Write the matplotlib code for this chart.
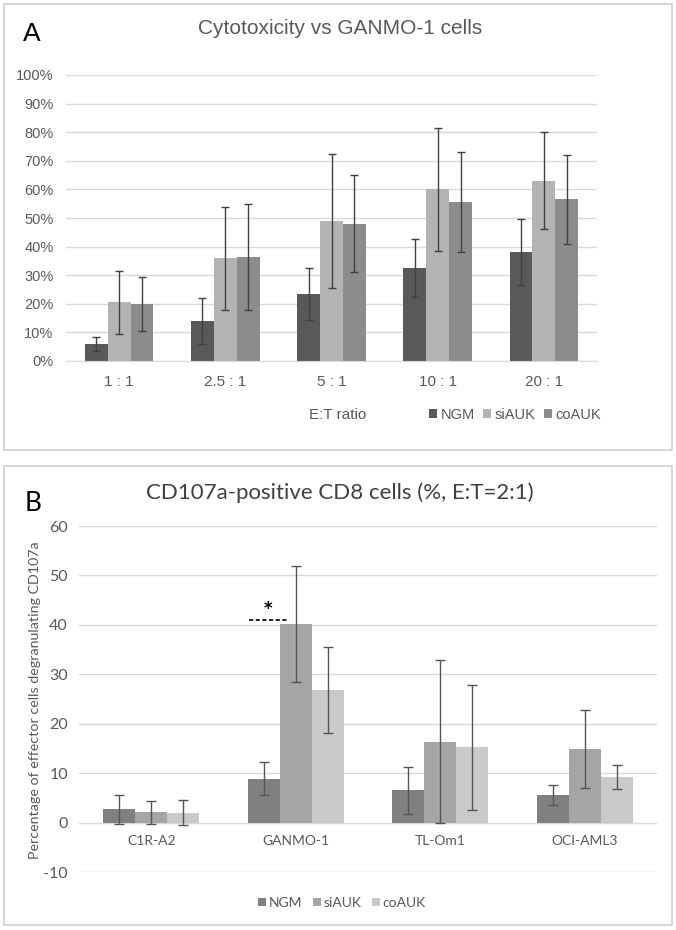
import numpy as np
import matplotlib
matplotlib.use("Agg")
import matplotlib.pyplot as plt
from matplotlib.patches import Rectangle

# panel A data (percent)
ratios = ["1 : 1", "2.5 : 1", "5 : 1", "10 : 1", "20 : 1"]
a_ngm = [6, 14, 23.5, 32.5, 38]
a_si = [20.5, 36, 49, 60, 63]
a_co = [20, 36.5, 48, 55.5, 56.5]
a_ngm_err = [2.5, 8, 9, 10, 11.5]
a_si_err = [11, 18, 23.5, 21.5, 17]
a_co_err = [9.5, 18.5, 17, 17.5, 15.5]

# panel B data
lines = ["C1R-A2", "GANMO-1", "TL-Om1", "OCI-AML3"]
b_ngm = [2.7, 8.9, 6.5, 5.6]
b_si = [2.1, 40.2, 16.4, 14.8]
b_co = [2.0, 26.8, 15.2, 9.2]
b_ngm_err = [2.9, 3.4, 4.7, 2.1]
b_si_err = [2.3, 11.7, 16.4, 7.9]
b_co_err = [2.5, 8.7, 12.6, 2.5]

W, H = 676, 930
fig = plt.figure(figsize=(W/100, H/100), dpi=100)

def fx(px):
    return px/W
def fy(py):
    return 1 - py/H

# panel borders
for (x0, y0, x1, y1) in [(4, 4, 672, 450), (4, 466, 672, 925)]:
    fig.patches.append(Rectangle((fx(x0), fy(y1)), fx(x1)-fx(x0), fy(y0)-fy(y1),
                                 transform=fig.transFigure, fill=False,
                                 edgecolor="#d0d0d0", lw=1.2))

grid_c = "#d9d9d9"
txt_c = "#595959"
err_c = "#404040"
bw = 0.215

# ---------- A ----------
fa = "Liberation Sans"
axA = fig.add_axes([fx(66), fy(361), fx(597)-fx(66), fy(75)-fy(361)])
x = np.arange(len(ratios))
cols_a = ["#595959", "#b3b3b3", "#8c8c8c"]
for k, (vals, errs, lab) in enumerate([(a_ngm, a_ngm_err, "NGM"),
                                        (a_si, a_si_err, "siAUK"),
                                        (a_co, a_co_err, "coAUK")]):
    axA.bar(x + (k-1)*bw, vals, bw, color=cols_a[k], label=lab, zorder=2)
    axA.errorbar(x + (k-1)*bw, vals, yerr=errs, fmt="none", ecolor=err_c,
                 elinewidth=1, capsize=3, capthick=1, zorder=3)
axA.set_xlim(-0.5, len(ratios)-0.5)
axA.set_ylim(0, 100)
axA.set_yticks(np.arange(0, 101, 10))
axA.set_yticklabels([f"{v}%" for v in range(0, 101, 10)], family=fa, fontsize=10.5, color=txt_c)
axA.set_xticks(x)
axA.set_xticklabels(ratios, family=fa, fontsize=11, color=txt_c)
axA.tick_params(length=0, axis="x", pad=10)
axA.tick_params(length=0, axis="y", pad=9)
axA.grid(axis="y", color=grid_c, lw=1, zorder=0)
axA.set_axisbelow(True)
for s in ["top", "right", "left"]:
    axA.spines[s].set_visible(False)
axA.spines["bottom"].set_color(grid_c)
fig.text(fx(340), fy(29), "Cytotoxicity vs GANMO-1 cells", ha="center", va="center",
         family=fa, fontsize=15, color=txt_c)
fig.text(fx(23), fy(34), "A", ha="left", va="center", family=fa, fontsize=19, color="black")
fig.text(fx(338), fy(415), "E:T ratio", ha="center", va="center", family=fa,
         fontsize=11, color=txt_c)
hA, lA = axA.get_legend_handles_labels()
fig.legend(hA, lA, loc="center", bbox_to_anchor=(fx(515), fy(415)), ncol=3, frameon=False,
           prop={"family": fa, "size": 10.5}, labelcolor=txt_c, handlelength=0.55,
           handleheight=0.55, handletextpad=0.2, columnspacing=0.6)

# ---------- B ----------
fb = "Lato"
axB = fig.add_axes([fx(79), fy(872), fx(657)-fx(79), fy(526)-fy(872)])
xb = np.arange(len(lines))
cols_b = ["#808080", "#a5a5a5", "#c9c9c9"]
for k, (vals, errs, lab) in enumerate([(b_ngm, b_ngm_err, "NGM"),
                                        (b_si, b_si_err, "siAUK"),
                                        (b_co, b_co_err, "coAUK")]):
    axB.bar(xb + (k-1)*bw*1.03, vals, bw*1.03, color=cols_b[k], label=lab, zorder=2)
    axB.errorbar(xb + (k-1)*bw*1.03, vals, yerr=errs, fmt="none", ecolor="#555555",
                 elinewidth=1, capsize=3.5, capthick=1, zorder=3)
axB.set_xlim(-0.5, len(lines)-0.5)
axB.set_ylim(-10, 60)
axB.set_yticks(np.arange(-10, 61, 10))
axB.set_yticklabels([str(v) for v in range(-10, 61, 10)], family=fb, fontsize=11.5, color=txt_c)
axB.set_xticks([])
axB.tick_params(length=0, axis="y", pad=8)
axB.grid(axis="y", color=grid_c, lw=1, zorder=0)
axB.set_axisbelow(True)
for s in ["top", "right", "left", "bottom"]:
    axB.spines[s].set_visible(False)
for i, name in enumerate(lines):
    axB.text(i, -3.8, name, ha="center", va="center", family=fb, fontsize=10, color=txt_c)
# significance mark
axB.plot([0.676, 0.94], [41, 41], color="black", ls=(0, (2.5, 1.5)), lw=1.2, zorder=4)
axB.text(0.81, 43.2, "*", ha="center", va="center", fontsize=12, fontweight="bold",
         color="black", family="DejaVu Sans")
fig.text(fx(35), fy(700), "Percentage of effector cells degranulating CD107a", rotation=90,
         ha="center", va="center", family=fb, fontsize=10.3, color=txt_c)
fig.text(fx(340), fy(493), "CD107a-positive CD8 cells (%, E:T=2:1)", ha="center",
         va="center", family=fb, fontsize=16, color="#404040")
fig.text(fx(25), fy(503), "B", ha="left", va="center", family=fb, fontsize=19, color="black")
hB, lB = axB.get_legend_handles_labels()
fig.legend(hB, lB, loc="center", bbox_to_anchor=(fx(342), fy(903)), ncol=3, frameon=False,
           prop={"family": fb, "size": 10}, labelcolor=txt_c, handlelength=0.55,
           handleheight=0.55, handletextpad=0.2, columnspacing=0.8)

fig.savefig("out.png", dpi=100)
